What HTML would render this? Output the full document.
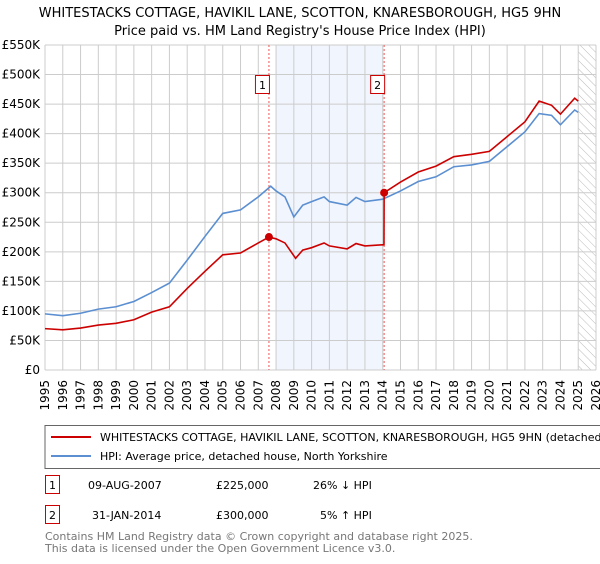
<!DOCTYPE html>
<html><head><meta charset="utf-8"><style>
body{margin:0;background:#fff;font-family:"DejaVu Sans","Liberation Sans",sans-serif;}
svg text{font-family:"DejaVu Sans","Liberation Sans",sans-serif;}
</style></head><body>
<svg id="c" width="600" height="560" viewBox="0 0 600 560">
<defs><pattern id="hatch" width="6" height="6" patternUnits="userSpaceOnUse" patternTransform="rotate(-45)"><line x1="0" y1="0" x2="0" y2="6" stroke="#bbb" stroke-width="1"/></pattern></defs>
<text x="300" y="17" text-anchor="middle" font-size="13">WHITESTACKS COTTAGE, HAVIKIL LANE, SCOTTON, KNARESBOROUGH, HG5 9HN</text>
<text x="300" y="35" text-anchor="middle" font-size="13">Price paid vs. HM Land Registry's House Price Index (HPI)</text>
<g id="plot"></g>
<g>
<rect x="45" y="425.5" width="570" height="43" fill="#fff" stroke="#666"/>
<line x1="51" y1="437" x2="91" y2="437" stroke="#cc0000" stroke-width="2"/>
<text x="100" y="441" font-size="11">WHITESTACKS COTTAGE, HAVIKIL LANE, SCOTTON, KNARESBOROUGH, HG5 9HN (detached house)</text>
<line x1="51" y1="456" x2="91" y2="456" stroke="#5b8fd1" stroke-width="2"/>
<text x="100" y="460" font-size="11">HPI: Average price, detached house, North Yorkshire</text>
</g>
<g font-size="11">
<rect x="45.5" y="475.5" width="14" height="18" fill="#fff" stroke="#cc0000"/><text x="52.5" y="489" text-anchor="middle">1</text>
<text x="88" y="489">09-AUG-2007</text><text x="216" y="489">£225,000</text><text x="313" y="489">26% ↓ HPI</text>
<rect x="45.5" y="505.5" width="14" height="18" fill="#fff" stroke="#cc0000"/><text x="52.5" y="519" text-anchor="middle">2</text>
<text x="92" y="519">31-JAN-2014</text><text x="216" y="519">£300,000</text><text x="320" y="519">5% ↑ HPI</text>
</g>
<text x="45" y="540" font-size="11" fill="#777">Contains HM Land Registry data © Crown copyright and database right 2025.</text>
<text x="45" y="552" font-size="11" fill="#777">This data is licensed under the Open Government Licence v3.0.</text>
</svg>
<script>
const hpiYears=[1995,1996,1997,1998,1999,2000,2001,2002,2003,2004,2005,2006,2007,2007.7,2008,2008.5,2009,2009.5,2010,2010.7,2011,2012,2012.5,2013,2014,2015,2016,2017,2018,2019,2020,2021,2022,2022.8,2023.5,2024,2024.8,2025];
const hpiValues=[95,92,96,103,107,116,131,147,186,226,265,271,293,311,303,293,259,279,285,293,285,279,292,285,289,303,319,327,344,347,353,378,403,434,431,415,440,436];
const propYears=[1995,1996,1997,1998,1999,2000,2001,2002,2003,2004,2005,2006,2007,2007.6,2008,2008.5,2009.1,2009.5,2010,2010.7,2011,2012,2012.5,2013,2014.07,2014.08,2015,2016,2017,2018,2019,2020,2021,2022,2022.8,2023.5,2024,2024.8,2025];
const propValues=[70,68,71,76,79,85,98,107,138,167,195,198,215,225,222,215,189,203,207,215,210,205,214,210,212,300,318,335,345,361,365,370,395,420,455,448,433,460,455];
const sales=[{n:"1",year:2007.6,value:225},{n:"2",year:2014.08,value:300}];
const yTicks=[0,50,100,150,200,250,300,350,400,450,500,550];
const xTicks=[1995,1996,1997,1998,1999,2000,2001,2002,2003,2004,2005,2006,2007,2008,2009,2010,2011,2012,2013,2014,2015,2016,2017,2018,2019,2020,2021,2022,2023,2024,2025,2026];
const X0=45,X1=596,Y0=370,Y1=45;
const x=y=>X0+(y-1995)/31*(X1-X0);
const yS=v=>Y0-v/550*(Y0-Y1);
const NS="http://www.w3.org/2000/svg";
const g=document.getElementById('plot');
function mk(t,a){const e=document.createElementNS(NS,t);for(const k in a)e.setAttribute(k,a[k]);g.appendChild(e);return e;}
let e=mk('rect',{x:x(2008),y:Y1,width:x(2014.08)-x(2008),height:Y0-Y1,fill:'#eef3fc',opacity:0.8});


e=mk('rect',{x:x(2025),y:Y1,width:X1-x(2025),height:Y0-Y1,fill:'url(#hatch)'});


xTicks.forEach(t=>{const l=mk('line',{x1:x(t),x2:x(t),y1:Y1,y2:Y0,stroke:'#ccc'});


const tx=mk('text',{x:x(t),y:Y0+6,'font-size':12,'text-anchor':'end',transform:`rotate(-90 ${x(t)+4} ${Y0+6})`});tx.textContent=t;

});
yTicks.forEach(t=>{const l=mk('line',{x1:X0,x2:X1,y1:yS(t),y2:yS(t),stroke:'#ccc'});


const tx=mk('text',{x:X0-5,y:yS(t)+4,'font-size':12,'text-anchor':'end'});tx.textContent=t===0?'£0':'£'+t+'K';

});
sales.forEach(s=>{const l=mk('line',{x1:x(s.year),x2:x(s.year),y1:Y1,y2:Y0,stroke:'#e55','stroke-dasharray':'2,2'});


const r=mk('rect',{x:x(s.year)-13.5,y:75.5,width:14,height:18,fill:'#fff',stroke:'#cc0000'});


const t=mk('text',{x:x(s.year)-6.5,y:89,'font-size':11,'text-anchor':'middle'});t.textContent=s.n;

});
function line(xs,vs,c,n){const p=mk('polyline',{points:xs.map((yy,i)=>x(yy)+','+yS(vs[i])).join(' '),fill:'none',stroke:c,'stroke-width':1.6});

}
line(hpiYears,hpiValues,'#5b8fd1','hpi-line');
line(propYears,propValues,'#cc0000','property-line');
sales.forEach(s=>{const c=mk('circle',{cx:x(s.year),cy:yS(s.value),r:4,fill:'#cc0000'});

});
</script>
</body></html>
